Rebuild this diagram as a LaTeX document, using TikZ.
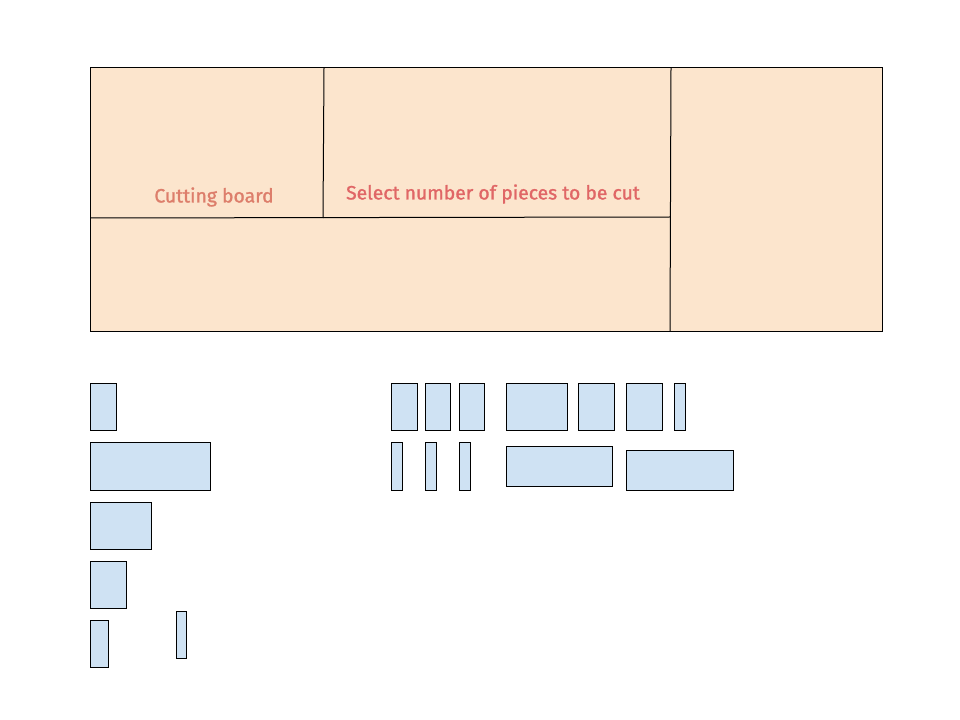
\documentclass[tikz,border=0pt]{standalone}
\usepackage{fontspec}
\setmainfont{Fira Sans}
\newfontfamily\labelfont[FakeBold=1.3]{Fira Sans}
\usepackage{tikz}
\definecolor{boardfill}{HTML}{FCE5CD}
\definecolor{piecefill}{HTML}{CFE2F3}
\definecolor{boardtext}{HTML}{DD7E6B}
\definecolor{selecttext}{HTML}{E06666}
\tikzstyle{board}=[draw=black,fill=boardfill,line width=0.75pt]
\tikzstyle{cut}=[draw=black,line width=0.75pt]
\tikzstyle{piece}=[draw=black,fill=piecefill,line width=0.75pt]
\tikzstyle{label}=[inner sep=0pt,font=\labelfont\fontsize{14.5}{17}\selectfont]

\begin{document}
\begin{tikzpicture}[x=0.75pt,y=-0.75pt]
\useasboundingbox (0,0) rectangle (960,720);
% cutting board
\draw[board] (90,68) rectangle (882,331);
\draw[cut] (324,68) -- (323,218);
\draw[cut] (90,218) -- (670,217);
\draw[cut] (671,68) -- (670,331);
\node[label,text=boardtext] (board) at (214,197) {Cutting board};
\node[label,text=selecttext] (select) at (493,194) {Select number of pieces to be cut};
% pieces, left column
\foreach \xa/\ya/\xb/\yb in {90/383/116/430, 90/442/210/490, 90/502/151/549,
  90/561/126/608, 90/620/108/667, 176/611/186/658}
\draw[piece] (\xa,\ya) rectangle (\xb,\yb);
% pieces, right block
\foreach \xa/\xb in {391/417, 425/450, 459/484, 506/567, 578/614, 626/662, 674/685}
\draw[piece] (\xa,383) rectangle (\xb,430);
\foreach \xa/\xb in {391/402, 425/436, 459/470}
\draw[piece] (\xa,442) rectangle (\xb,490);
\draw[piece] (506,446) rectangle (612,486);
\draw[piece] (626,450) rectangle (733,490);
\end{tikzpicture}
\end{document}
